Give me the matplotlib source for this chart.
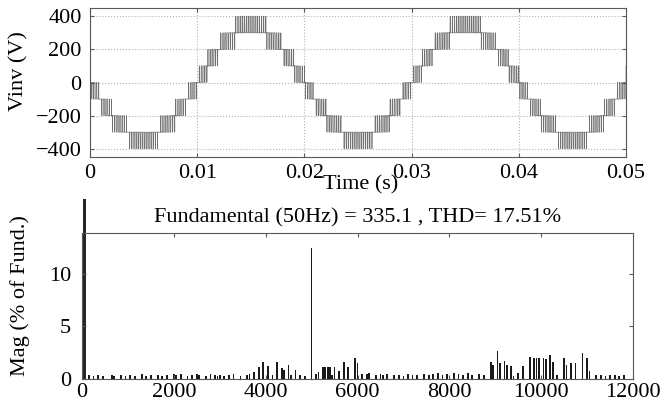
import numpy as np
import matplotlib
matplotlib.use("Agg")
import matplotlib.pyplot as plt
from matplotlib.patches import Rectangle

plt.rcParams['font.family'] = ['Liberation Serif', 'DejaVu Serif']

# ---------------- data ----------------
# inverter output: 9-level phase-disposition PWM (parameters)
fund_amp = 335.1        # V, fundamental amplitude (from title)
fund_freq = 50.0        # Hz
carrier_freq = 5000.0   # Hz, dominant switching harmonic in spectrum
level_step = 100.0      # V between adjacent levels
levels = [-400, -300, -200, -100, 0, 100, 200, 300, 400]
t_end = 0.05

time_ticks = [0, 0.01, 0.02, 0.03, 0.04, 0.05]
time_tick_labels = ['0', '0.01', '0.02', '0.03', '0.04', '0.05']
volt_ticks = [-400, -200, 0, 200, 400]

# harmonic spectrum (% of fundamental)
fund_mag = 100.0
harm_freq = [150, 250, 350, 450, 650, 700, 850, 950, 1050, 1150, 1300, 1400, 1500,
             1650, 1750, 1850, 2000, 2050, 2150, 2300, 2400, 2500, 2550, 2700, 2800,
             2900, 2950, 3000, 3100, 3200, 3300, 3450, 3600, 3650, 3750, 3850, 3950,
             4050, 4150, 4250, 4350, 4400, 4500, 4550, 4650, 4750, 4850, 5000, 5100,
             5150, 5250, 5300, 5350, 5400, 5450, 5500, 5600, 5700, 5800, 5950, 6000,
             6100, 6200, 6250, 6400, 6500, 6550, 6650, 6800, 6900, 7000, 7100, 7200,
             7300, 7450, 7550, 7650, 7750, 7850, 7950, 8100, 8200, 8300, 8400, 8500,
             8650, 8750, 8900, 8950, 9050, 9100, 9200, 9250, 9350, 9400, 9500, 9600,
             9750, 9850, 9900, 9950, 10050, 10100, 10200, 10250, 10350, 10500, 10550,
             10650, 10750, 10900, 11000, 11050, 11200, 11300, 11400, 11500, 11600,
             11700, 11800]
harm_mag = [0.35, 0.3, 0.4, 0.3, 0.35, 0.3, 0.4, 0.3, 0.35, 0.3, 0.45, 0.3, 0.35,
            0.4, 0.3, 0.35, 0.45, 0.35, 0.5, 0.3, 0.4, 0.45, 0.35, 0.3, 0.5,
            0.4, 0.3, 0.35, 0.3, 0.35, 0.45, 0.3, 0.35, 0.5, 0.7, 1.1, 1.65,
            1.2, 0.4, 1.6, 1.0, 0.9, 1.3, 0.4, 0.85, 0.35, 0.3, 12.5, 0.5,
            0.65, 1.1, 1.1, 1.1, 1.1, 0.4, 1.1, 0.8, 1.6, 1.1, 2.0, 1.5,
            0.5, 0.45, 0.55, 0.4, 0.5, 0.4, 0.45, 0.35, 0.4, 0.3, 0.45, 0.4,
            0.35, 0.5, 0.4, 0.45, 0.55, 0.4, 0.5, 0.6, 0.45, 0.35, 0.6, 0.4,
            0.5, 0.35, 1.6, 1.3, 2.7, 1.5, 1.7, 1.3, 1.2, 0.3, 0.6, 1.2,
            2.1, 2.0, 2.0, 2.0, 2.0, 1.9, 2.3, 1.6, 0.4, 2.0, 1.3,
            1.5, 1.5, 2.5, 2.0, 0.8, 0.35, 0.4, 0.3, 0.4, 0.35,
            0.3, 0.4]
freq_ticks = [0, 2000, 4000, 6000, 8000, 10000, 12000]
mag_ticks = [0, 5, 10]
title_text = 'Fundamental (50Hz) = 335.1 , THD= 17.51%'

# ---------------- waveform ----------------
t = np.linspace(0, t_end, 100001)
ref = -fund_amp * np.sin(2 * np.pi * fund_freq * t)
phase = (t * carrier_freq) % 1.0
carrier = 1 - np.abs(2 * phase - 1)          # triangle 0..1
band = np.floor(ref / level_step)
frac = ref / level_step - band
v = level_step * (band + (frac > carrier))
v = np.clip(v, min(levels), max(levels))

# ---------------- figure ----------------
W, H = 667, 413
fig = plt.figure(figsize=(W / 100, H / 100), dpi=100)

def axrect(l, t_, r, b):
    return [l / W, 1 - b / H, (r - l) / W, (b - t_) / H]

ax1 = fig.add_axes(axrect(90, 8, 626, 157))
ax2 = fig.add_axes(axrect(82, 233, 633, 379))

fs = 16
frame_col = '0.35'

ax1.plot(t, v, color='0.3', lw=0.5, alpha=0.8)
ax1.set_xlim(0, t_end)
ax1.set_ylim(-450, 450)
ax1.set_xticks(time_ticks)
ax1.set_xticklabels(time_tick_labels)
ax1.set_yticks(volt_ticks)
ax1.grid(True, linestyle=':', color='0.7', lw=0.8)
ax1.tick_params(direction='in', top=True, right=True, labelsize=fs, length=3,
                color=frame_col)
ax1.tick_params(axis='x', pad=5)
ax1.tick_params(axis='y', pad=6)
ax1.set_ylabel('Vinv (V)', fontsize=fs)
ax1.yaxis.set_label_coords(-0.115, 0.58)
ax1.set_xlabel('Time (s)', fontsize=fs)
ax1.xaxis.set_label_coords(0.505, -0.125)
for s in ax1.spines.values():
    s.set_color(frame_col)

# spectrum
ax2.bar(harm_freq, harm_mag, width=38, color='0.1', edgecolor='none')
fb = ax2.bar([fund_freq], [fund_mag], width=60, color='0.15', edgecolor='none')
clip = Rectangle((0, 0), 1, 1.23, transform=ax2.transAxes, facecolor='none')
for p in fb:
    p.set_clip_path(clip)
ax2.set_xlim(0, 12000)
ax2.set_ylim(0, 13.9)
ax2.set_xticks(freq_ticks)
ax2.set_yticks(mag_ticks)
ax2.tick_params(direction='in', top=True, right=True, labelsize=fs, length=3,
                color=frame_col)
ax2.tick_params(axis='x', pad=3)
ax2.tick_params(axis='y', pad=8)
ax2.set_ylabel('Mag (% of Fund.)', fontsize=fs)
ax2.yaxis.set_label_coords(-0.095, 0.57)
ax2.set_title(title_text, fontsize=fs, y=1.075, pad=0)
for s in ax2.spines.values():
    s.set_color(frame_col)

fig.savefig('out.png', dpi=100)
